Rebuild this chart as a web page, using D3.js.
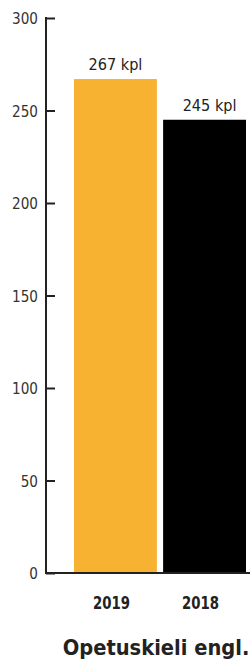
<!DOCTYPE html>
<html><head><meta charset="utf-8">
<script src="https://cdn.jsdelivr.net/npm/d3@7"></script>
<style>body{margin:0;background:#fff}svg{display:block}</style>
</head><body>
<svg id="c" width="250" height="659"></svg>
<script>
const categories = ["2019", "2018"];
const values = [267, 245];
const valueLabels = ["267 kpl", "245 kpl"];
const yTicks = [0, 50, 100, 150, 200, 250, 300];
const colors = ["#F8B231", "#000000"];
const title = "Opetuskieli engl.";

const svg = d3.select("#c");
const font = "'DejaVu Sans', sans-serif";
const x0 = 46, y0 = 573, yTop = 18;
const y = d3.scaleLinear().domain([0, 300]).range([y0, yTop]);
const x = d3.scaleBand().domain(categories).range([74, 246]).paddingInner(0.07);

function place(sel, fx, fy, sy) {
  sel.attr("transform", (d, i) => `translate(${fx(d, i)},${fy(d, i)}) scale(1,${sy})`);
}

// bars
svg.selectAll("rect.bar").data(values).enter().append("rect")
  .attr("x", (d, i) => x(categories[i]))
  .attr("y", d => y(d))
  .attr("width", x.bandwidth())
  .attr("height", d => y0 - y(d))
  .attr("fill", (d, i) => colors[i]);

// value labels
svg.selectAll("text.val").data(values).enter().append("text")
  .attr("text-anchor", "middle")
  .attr("font-family", font).attr("font-size", 14.5).attr("fill", "#222")
  .text((d, i) => valueLabels[i])
  .call(place, (d, i) => x(categories[i]) + x.bandwidth() / 2 + (i === 1 ? 5 : 0), d => y(d) - 9, 1.15);

// y axis
const ax = svg.append("g").attr("transform", `translate(${x0},0)`)
  .call(d3.axisRight(y).tickValues(yTicks).tickSize(9).tickFormat(""));
ax.select(".domain").remove();
ax.selectAll(".tick line").attr("stroke", "#222").attr("stroke-width", 2);
svg.append("line").attr("x1", x0).attr("x2", x0).attr("y1", y(300) - 1).attr("y2", y0 + 1)
  .attr("stroke", "#222").attr("stroke-width", 2);
svg.append("line").attr("x1", x0).attr("x2", 250).attr("y1", y0).attr("y2", y0)
  .attr("stroke", "#222").attr("stroke-width", 2);
svg.selectAll("text.yt").data(yTicks).enter().append("text")
  .attr("text-anchor", "end")
  .attr("font-family", font).attr("font-size", 13.6).attr("fill", "#333")
  .text(d => d)
  .call(place, d => 38, d => y(d) + 6, 1.2);

// x labels
svg.selectAll("text.xl").data(categories).enter().append("text")
  .attr("text-anchor", "middle")
  .attr("font-family", font).attr("font-weight", "bold").attr("font-size", 13.3).attr("fill", "#222")
  .text(d => d)
  .call(place, d => x(d) + x.bandwidth() / 2 - 4, d => 609, 1.3);

svg.append("text").attr("text-anchor", "middle")
  .attr("font-family", font).attr("font-weight", "bold").attr("font-size", 19.5).attr("fill", "#222")
  .attr("transform", "translate(156,655) scale(1,1.05)")
  .text(title);
</script>
</body></html>
